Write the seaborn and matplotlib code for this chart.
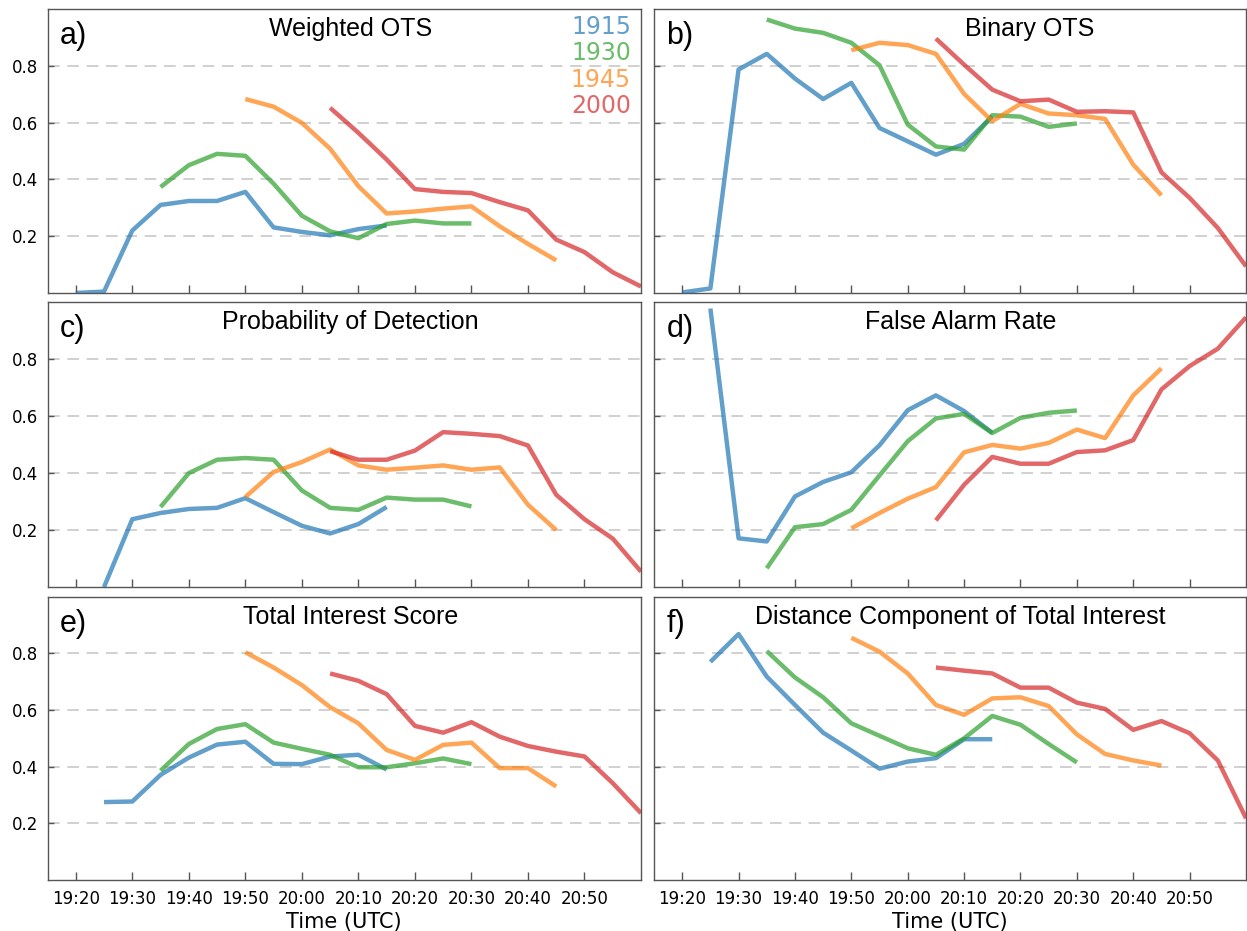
import numpy as np
import pandas as pd
import matplotlib
matplotlib.use("Agg")
import matplotlib.pyplot as plt
import seaborn as sns

# ---------------- data ----------------
series_labels = ["1915", "1930", "1945", "2000"]
series_colors = ["#1f77b4", "#2ca02c", "#ff7f0e", "#d62728"]

times_1915_full = ["19:20", "19:25", "19:30", "19:35", "19:40", "19:45",
                   "19:50", "19:55", "20:00", "20:05", "20:10", "20:15"]
times_1915 = ["19:25", "19:30", "19:35", "19:40", "19:45",
              "19:50", "19:55", "20:00", "20:05", "20:10", "20:15"]
times_1930 = ["19:35", "19:40", "19:45", "19:50", "19:55", "20:00",
              "20:05", "20:10", "20:15", "20:20", "20:25", "20:30"]
times_1945 = ["19:50", "19:55", "20:00", "20:05", "20:10", "20:15",
              "20:20", "20:25", "20:30", "20:35", "20:40", "20:45"]
times_2000 = ["20:05", "20:10", "20:15", "20:20", "20:25", "20:30",
              "20:35", "20:40", "20:45", "20:50", "20:55", "21:00"]

x_tick_labels = ["19:20", "19:30", "19:40", "19:50", "20:00",
                 "20:10", "20:20", "20:30", "20:40", "20:50"]
x_limits = ["19:15", "21:00"]
y_ticks = [0.2, 0.4, 0.6, 0.8]
y_tick_labels = ["0.2", "0.4", "0.6", "0.8"]

panel_letters = ["a)", "b)", "c)", "d)", "e)", "f)"]
panel_titles = ["Weighted OTS", "Binary OTS", "Probability of Detection",
                "False Alarm Rate", "Total Interest Score",
                "Distance Component of Total Interest"]

# a) Weighted OTS
wots_1915 = [0.000, 0.005, 0.220, 0.310, 0.324, 0.324, 0.356, 0.231, 0.215, 0.203, 0.225, 0.238]
wots_1930 = [0.373, 0.450, 0.490, 0.483, 0.385, 0.272, 0.217, 0.193, 0.243, 0.255, 0.245, 0.245]
wots_1945 = [0.683, 0.656, 0.599, 0.508, 0.376, 0.280, 0.287, 0.297, 0.305, 0.235, 0.173, 0.115]
wots_2000 = [0.652, 0.564, 0.470, 0.366, 0.356, 0.352, 0.320, 0.291, 0.188, 0.144, 0.073, 0.023]
# b) Binary OTS
bots_1915 = [0.002, 0.016, 0.787, 0.842, 0.755, 0.683, 0.740, 0.581, 0.534, 0.487, 0.525, 0.622]
bots_1930 = [0.963, 0.931, 0.916, 0.881, 0.802, 0.593, 0.516, 0.505, 0.626, 0.621, 0.585, 0.597]
bots_1945 = [0.855, 0.881, 0.873, 0.842, 0.701, 0.605, 0.666, 0.632, 0.626, 0.613, 0.452, 0.344]
bots_2000 = [0.896, 0.804, 0.716, 0.675, 0.681, 0.638, 0.640, 0.636, 0.425, 0.335, 0.229, 0.094]
# c) Probability of Detection
pod_1915 = [0.000, 0.238, 0.260, 0.274, 0.278, 0.312, 0.263, 0.215, 0.188, 0.221, 0.281]
pod_1930 = [0.281, 0.400, 0.447, 0.453, 0.447, 0.339, 0.278, 0.271, 0.314, 0.307, 0.307, 0.283]
pod_1945 = [0.316, 0.404, 0.439, 0.483, 0.427, 0.412, 0.419, 0.427, 0.412, 0.420, 0.289, 0.200]
pod_2000 = [0.477, 0.447, 0.447, 0.479, 0.544, 0.538, 0.530, 0.497, 0.324, 0.238, 0.170, 0.054]
# d) False Alarm Rate
far_1915 = [0.978, 0.171, 0.160, 0.318, 0.369, 0.403, 0.498, 0.621, 0.673, 0.618, 0.541]
far_1930 = [0.066, 0.210, 0.221, 0.271, 0.392, 0.512, 0.592, 0.608, 0.541, 0.594, 0.612, 0.620]
far_1945 = [0.206, 0.260, 0.310, 0.351, 0.473, 0.499, 0.486, 0.506, 0.553, 0.523, 0.673, 0.768]
far_2000 = [0.234, 0.359, 0.457, 0.433, 0.433, 0.474, 0.480, 0.516, 0.694, 0.776, 0.837, 0.947]
# e) Total Interest Score
tis_1915 = [0.275, 0.277, 0.371, 0.432, 0.478, 0.488, 0.410, 0.409, 0.436, 0.442, 0.390]
tis_1930 = [0.386, 0.480, 0.533, 0.550, 0.485, 0.463, 0.442, 0.398, 0.398, 0.412, 0.429, 0.409]
tis_1945 = [0.804, 0.750, 0.688, 0.610, 0.553, 0.459, 0.424, 0.477, 0.485, 0.395, 0.395, 0.330]
tis_2000 = [0.729, 0.703, 0.656, 0.544, 0.520, 0.557, 0.506, 0.473, 0.453, 0.436, 0.342, 0.236]
# f) Distance Component of Total Interest
dist_1915 = [0.770, 0.868, 0.718, 0.618, 0.520, 0.457, 0.393, 0.418, 0.430, 0.497, 0.497]
dist_1930 = [0.808, 0.715, 0.645, 0.553, 0.509, 0.465, 0.442, 0.500, 0.579, 0.548, 0.480, 0.415]
dist_1945 = [0.855, 0.806, 0.729, 0.618, 0.583, 0.641, 0.645, 0.614, 0.514, 0.445, 0.422, 0.404]
dist_2000 = [0.750, 0.739, 0.729, 0.679, 0.679, 0.626, 0.604, 0.530, 0.561, 0.518, 0.422, 0.218]

panel_series = [
    [(times_1915_full, wots_1915), (times_1930, wots_1930), (times_1945, wots_1945), (times_2000, wots_2000)],
    [(times_1915_full, bots_1915), (times_1930, bots_1930), (times_1945, bots_1945), (times_2000, bots_2000)],
    [(times_1915, pod_1915), (times_1930, pod_1930), (times_1945, pod_1945), (times_2000, pod_2000)],
    [(times_1915, far_1915), (times_1930, far_1930), (times_1945, far_1945), (times_2000, far_2000)],
    [(times_1915, tis_1915), (times_1930, tis_1930), (times_1945, tis_1945), (times_2000, tis_2000)],
    [(times_1915, dist_1915), (times_1930, dist_1930), (times_1945, dist_1945), (times_2000, dist_2000)],
]


def to_time(labels):
    return pd.to_datetime(["2016-01-01 " + s for s in labels])


# ---------------- style ----------------
sns.set_theme(style="white")
plt.rcParams["font.family"] = ["DejaVu Sans"]
plt.rcParams["text.color"] = "black"
plt.rcParams["axes.labelcolor"] = "black"
plt.rcParams["xtick.labelcolor"] = "black"
plt.rcParams["ytick.labelcolor"] = "black"
plt.rcParams["axes.edgecolor"] = "#555555"
plt.rcParams["axes.linewidth"] = 1.0

W, H = 1247, 931
fig = plt.figure(figsize=(W / 100, H / 100), dpi=100)

col_px = [(47.5, 641.0), (654.0, 1246.0)]
row_px = [(9.0, 293.0), (302.3, 587.0), (596.7, 880.0)]

title_x = [0.51, 0.635, 0.51, 0.518, 0.51, 0.518]
alpha = 0.7
palette = dict(zip(series_labels, series_colors))

for i in range(6):
    r, c = divmod(i, 2)
    x0, x1 = col_px[c]
    y0, y1 = row_px[r]
    ax = fig.add_axes([x0 / W, 1 - y1 / H, (x1 - x0) / W, (y1 - y0) / H])
    ax_h = y1 - y0

    frames = []
    for lab, (tt, vals) in zip(series_labels, panel_series[i]):
        frames.append(pd.DataFrame({"time": to_time(tt), "value": vals, "run": lab}))
    df = pd.concat(frames, ignore_index=True)

    sns.lineplot(data=df, x="time", y="value", hue="run", hue_order=series_labels,
                 palette=palette, linewidth=3.2, alpha=alpha, legend=False,
                 estimator=None, ax=ax, solid_capstyle="butt")

    lim = to_time(x_limits)
    ax.set_xlim(lim[0], lim[1])
    ax.set_ylim(0, 1)
    ax.set_yticks(y_ticks)
    ax.set_xticks(to_time(x_tick_labels))
    if c == 0:
        ax.set_yticklabels(y_tick_labels)
    else:
        ax.set_yticklabels([])
    if r == 2:
        ax.set_xticklabels(x_tick_labels)
        ax.set_xlabel("Time (UTC)", fontsize=15, labelpad=3, color="black")
    else:
        ax.set_xticklabels([])
        ax.set_xlabel("")
    ax.set_ylabel("")

    ax.grid(axis="y", color="#c8c8c8", linewidth=1.2, linestyle=(0, (7, 4.6)))
    ax.grid(axis="x", visible=False)
    ax.tick_params(axis="x", direction="in", length=6, width=1.0, color="#555555",
                   labelsize=12, pad=7, bottom=True, labelcolor="black")
    ax.tick_params(axis="y", direction="in", length=4, width=1.0, color="#555555",
                   labelsize=12, pad=7, left=True, labelcolor="black")
    for sp in ax.spines.values():
        sp.set_color("#555555")
        sp.set_linewidth(1.0)

    ax.text(title_x[i], 1 - 27 / ax_h, panel_titles[i], transform=ax.transAxes,
            ha="center", va="baseline", fontsize=18, family="Liberation Sans",
            color="black")
    ax.text(12.5 / (x1 - x0), 1 - 35 / ax_h, panel_letters[i], transform=ax.transAxes,
            ha="left", va="baseline", fontsize=22, family="Liberation Sans",
            color="black")

    if i == 0:
        baselines = [25, 51, 77.7, 104.3]
        for lab, col, b in zip(series_labels, series_colors, baselines):
            ax.text(1 - 10 / (x1 - x0), 1 - b / ax_h, lab, transform=ax.transAxes,
                    ha="right", va="baseline", fontsize=17, color=col, alpha=alpha)

fig.savefig("out.png", dpi=100)
